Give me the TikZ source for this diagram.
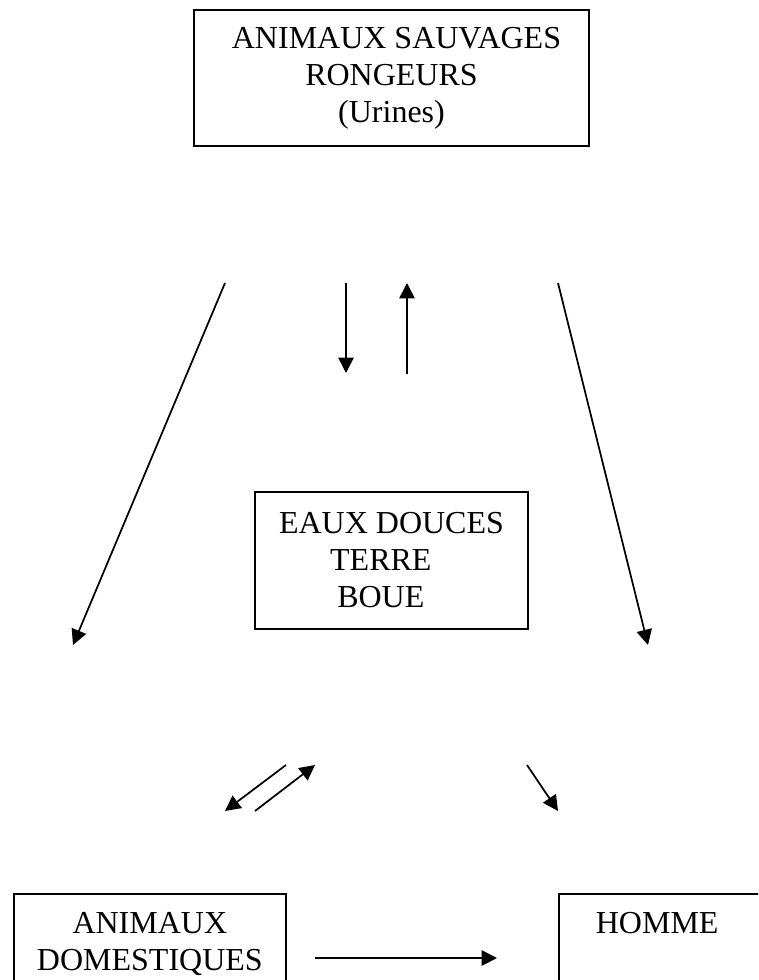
\documentclass[tikz,border=0pt]{standalone}
\usepackage{fontspec}
\setmainfont{Liberation Serif}
\usetikzlibrary{shapes.geometric, arrows.meta}
\tikzstyle{box} = [rectangle, draw=black, line width=1.3pt, align=center, font=\fontsize{24}{27.75}\selectfont]
\tikzstyle{arrow} = [line width=1.3pt, -{Triangle[length=11.5pt, width=11.5pt]}]

\begin{document}
\begin{tikzpicture}[x=0.75pt, y=-0.75pt]
  \useasboundingbox (0,0) rectangle (758,980);
  \clip (0,0) rectangle (758,980);
  \node(sauvages)[box, minimum width=296.25pt, minimum height=102pt] at (391.5,78) {\rule{7.5pt}{0pt}ANIMAUX SAUVAGES\\RONGEURS\\(Urines)};
  \node(eaux)[box, minimum width=204.75pt, minimum height=102.75pt] at (391.5,560.5) {EAUX DOUCES\\TERRE\rule{16pt}{0pt}\\BOUE\rule{16pt}{0pt}};
  \node(domestiques)[box, anchor=north west, minimum width=204pt, inner ysep=14pt, text depth=80pt] at (13,893) {ANIMAUX\\DOMESTIQUES};
  \node(homme)[box, anchor=north west, text width=200pt, align=left, inner xsep=27.75pt, inner ysep=14pt, text depth=80pt] at (558,893) {HOMME};
  % points libres des fleches
  \coordinate (a1) at (225,283);
  \coordinate (a2) at (73,645);
  \coordinate (b1) at (346,283);
  \coordinate (b2) at (346,373);
  \coordinate (c1) at (407,374);
  \coordinate (c2) at (407,283);
  \coordinate (d1) at (558,283);
  \coordinate (d2) at (648,645);
  \coordinate (e1) at (286,765);
  \coordinate (e2) at (225,811);
  \coordinate (f1) at (255,811);
  \coordinate (f2) at (315,765);
  \coordinate (g1) at (527,765);
  \coordinate (g2) at (558,811);
  \coordinate (h1) at (315,958);
  \coordinate (h2) at (497,958);
  \draw[arrow] (a1)--(a2);
  \draw[arrow] (b1)--(b2);
  \draw[arrow] (c1)--(c2);
  \draw[arrow] (d1)--(d2);
  \draw[arrow] (e1)--(e2);
  \draw[arrow] (f1)--(f2);
  \draw[arrow] (g1)--(g2);
  \draw[arrow] (h1)--(h2);
\end{tikzpicture}
\end{document}
